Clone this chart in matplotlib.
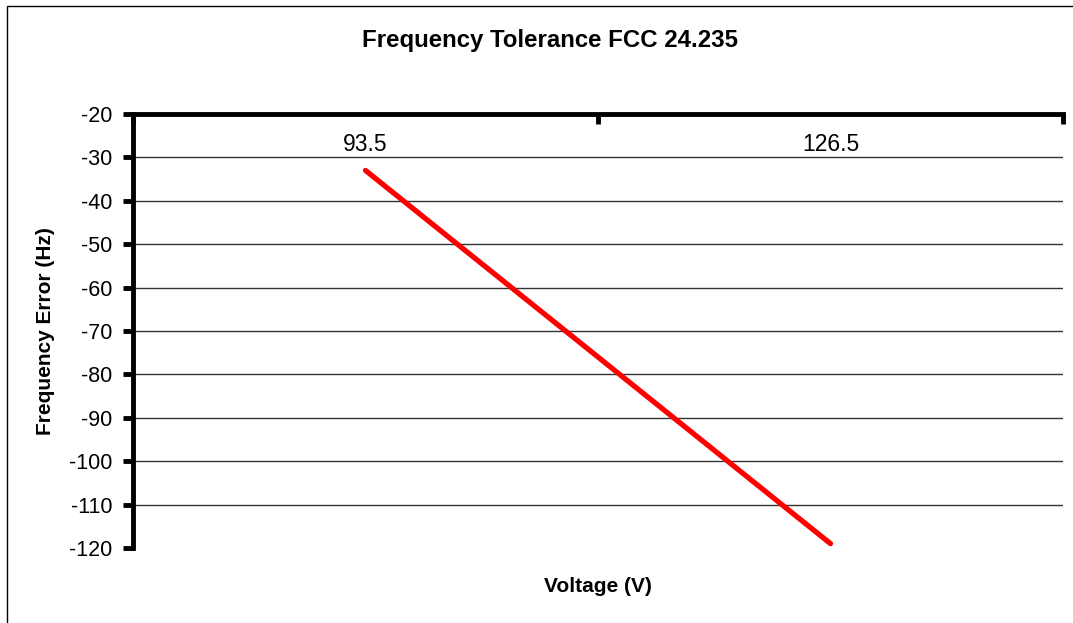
import matplotlib
matplotlib.use("Agg")
import matplotlib.pyplot as plt
from matplotlib.patches import Rectangle
from matplotlib.transforms import blended_transform_factory

plt.rcParams['font.family'] = ['Liberation Sans', 'DejaVu Sans']

# Data
voltages = ["93.5", "126.5"]
freq_error = [-33, -119]
y_ticks = [-20, -30, -40, -50, -60, -70, -80, -90, -100, -110, -120]

W, H = 1073, 623
fig = plt.figure(figsize=(W / 100, H / 100), dpi=100)
fig.patch.set_facecolor("white")

# Chart-area border
fig.patches.append(Rectangle((7 / W, -0.5), 2.0, 1.5 - 6 / H, transform=fig.transFigure,
                             fill=False, lw=1.0, edgecolor="black", clip_on=False))

left, right, top, bottom = 133, 1063, 114, 548
ax = fig.add_axes([left / W, 1 - bottom / H, (right - left) / W, (bottom - top) / H])

n = len(voltages)
xpos = [i + 0.5 for i in range(n)]
ax.plot(xpos, freq_error, color="#FF0000", lw=3.8, solid_capstyle="round", zorder=3)

ax.set_xlim(0, n)
ax.set_ylim(min(y_ticks), max(y_ticks))

# Horizontal gridlines
for v in y_ticks:
    if v not in (min(y_ticks), max(y_ticks)):
        ax.axhline(v, color="#333333", lw=1.0, zorder=1)

# Spines: value axis on the left, category axis along the top
for s in ("right", "bottom"):
    ax.spines[s].set_visible(False)
ax.spines["left"].set_linewidth(3.5)
ax.spines["top"].set_linewidth(3.5)

ax.set_yticks(y_ticks)
ax.set_yticklabels([str(v) for v in y_ticks], fontsize=15.5)
ax.tick_params(axis="y", direction="out", length=7, width=3.5, pad=8)

ax.xaxis.tick_top()
ax.set_xticks(range(n + 1))
ax.set_xticklabels([])
ax.tick_params(axis="x", direction="in", length=7, width=3.5)

# Category labels sit just under the top axis
trans = blended_transform_factory(ax.transData, ax.transAxes)
for x, lab in zip(xpos, voltages):
    ax.text(x, 1 - (156 - top) / (bottom - top), lab, transform=trans,
            ha="center", va="bottom", fontsize=16.5)

fig.text(550 / W, 1 - 40 / H, "Frequency Tolerance FCC 24.235", ha="center", va="center",
         fontsize=17.3, fontweight="bold")
fig.text((left + right) / 2 / W, 1 - 587 / H, "Voltage (V)", ha="center", va="center",
         fontsize=15, fontweight="bold")
fig.text(46 / W, 1 - 331 / H, "Frequency Error (Hz)", ha="center", va="center",
         rotation=90, fontsize=15, fontweight="bold")

fig.savefig("out.png", dpi=100, facecolor="white")
